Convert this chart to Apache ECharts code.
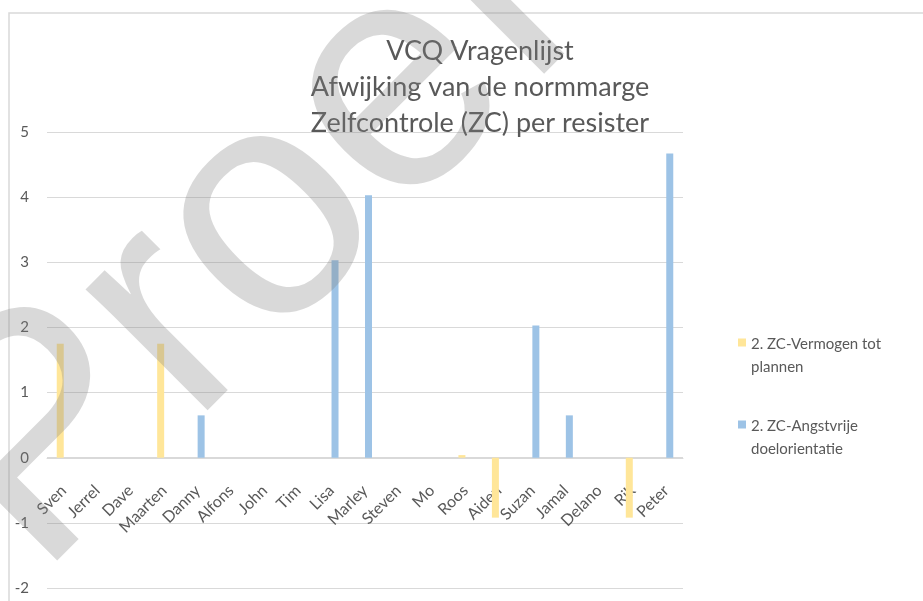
<!DOCTYPE html>
<html>
<head>
<meta charset="utf-8">
<script src="https://cdn.jsdelivr.net/npm/echarts@6/dist/echarts.min.js"></script>
<style>
  html, body { margin: 0; padding: 0; background: #fff; }
</style>
</head>
<body>
<!-- chart container -->
<div id="main" style="width: 923px;height:601px;"></div>
<script>
var categories = ['Sven', 'Jerrel', 'Dave', 'Maarten', 'Danny', 'Alfons', 'John', 'Tim', 'Lisa', 'Marley',
  'Steven', 'Mo', 'Roos', 'Aiden', 'Suzan', 'Jamal', 'Delano', 'Rik', 'Peter']
var vermogenTotPlannen = [1.75, 0, 0, 1.75, 0, 0, 0, 0, 0, 0, 0, 0, 0.04, -0.92, 0, 0, 0, -0.92, 0]
var angstvrijeDoelorientatie = [0, 0, 0, 0, 0.65, 0, 0, 0, 3.03, 4.03, 0, 0, 0, 0, 2.03, 0.65, 0, 0, 4.67]
var seriesNames = ['2. ZC-Vermogen tot plannen', '2. ZC-Angstvrije doelorientatie']
var yTicks = [-2, -1, 0, 1, 2, 3, 4, 5]

var font = 'Lato'
var grey = '#595959'

var myChart = echarts.init(document.getElementById('main'))

var option = {
  backgroundColor: '#fff',
  animation: false,
  title: {
    text: 'VCQ Vragenlijst\nAfwijking van de normmarge\nZelfcontrole (ZC) per resister',
    left: 475,
    top: 28,
    textAlign: 'center',
    textStyle: {
      fontFamily: font,
      fontWeight: 'normal',
      fontSize: 27,
      lineHeight: 36,
      color: grey
    }
  },
  legend: {
    orient: 'vertical',
    left: 733,
    top: 328,
    itemGap: 36,
    itemWidth: 8,
    itemHeight: 40,
    icon: 'path://M0,0L10,0L10,10L0,10Z M0,44L0.01,44L0.01,44.01Z',
    data: seriesNames,
    formatter: function (name) {
      return name === seriesNames[0] ? '2. ZC-Vermogen tot\nplannen' : '2. ZC-Angstvrije\ndoelorientatie'
    },
    textStyle: {
      fontFamily: font,
      fontSize: 15,
      lineHeight: 23,
      color: grey
    }
  },
  grid: {
    left: 47,
    right: 240,
    top: 132,
    bottom: 13,
    outerBoundsMode: 'none',
    containLabel: false
  },
  xAxis: {
    type: 'category',
    data: categories,
    // axis sits on the zero line: 130px above the bottom of the grid
    offset: -130,
    axisLine: { onZero: false, lineStyle: { color: '#d9d9d9', width: 1 } },
    axisTick: { show: false },
    axisLabel: {
      rotate: 45,
      interval: 0,
      margin: 30,
      fontFamily: font,
      fontSize: 16,
      color: grey
    }
  },
  yAxis: {
    type: 'value',
    min: yTicks[0],
    max: yTicks[yTicks.length - 1],
    interval: 1,
    axisLine: { show: false },
    axisTick: { show: false },
    splitLine: { lineStyle: { color: '#d9d9d9', width: 1 } },
    axisLabel: {
      margin: 18,
      fontFamily: font,
      fontSize: 15,
      color: grey
    }
  },
  series: [
    {
      name: seriesNames[0],
      type: 'bar',
      barWidth: 7,
      barGap: '0%',
      data: vermogenTotPlannen,
      itemStyle: { color: '#ffe699' }
    },
    {
      name: seriesNames[1],
      type: 'bar',
      barWidth: 7,
      barGap: '0%',
      data: angstvrijeDoelorientatie,
      itemStyle: { color: '#9dc3e6' }
    }
  ],
  graphic: [
    {
      // chart area border (only top and left visible)
      type: 'rect',
      silent: true,
      shape: { x: 9, y: 13, width: 1200, height: 1200 },
      style: { fill: 'none', stroke: '#d9d9d9', lineWidth: 1.5 },
      z: 0
    },
    {
      // watermark
      type: 'text',
      silent: true,
      x: -25,
      y: 516,
      rotation: Math.PI / 4,
      style: {
        text: 'Proef',
        font: '325px "Liberation Sans"',
        fill: 'rgba(128,128,128,0.3)',
        align: 'left',
        verticalAlign: 'middle'
      },
      z: 100
    }
  ]
}

option && myChart.setOption(option)
</script>
</body>
</html>
